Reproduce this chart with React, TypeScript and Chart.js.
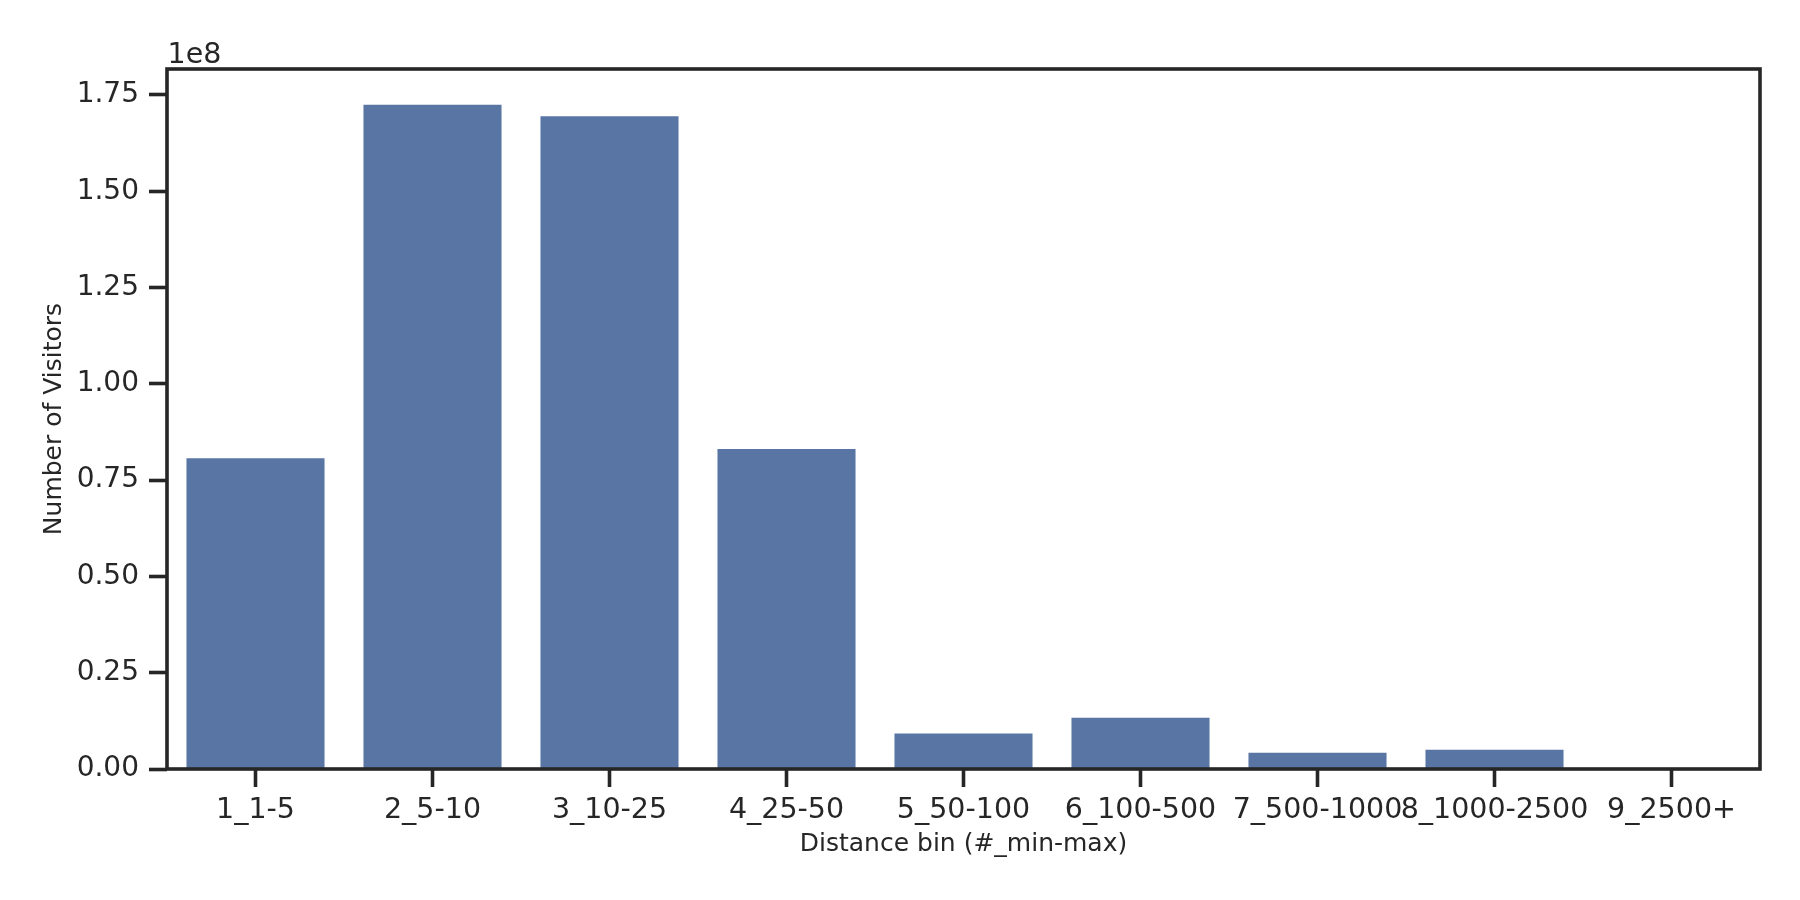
import React, { useEffect, useRef } from "react";
import { Chart, registerables } from "chart.js";

Chart.register(...registerables);

const CATEGORIES = [
  "1_1-5",
  "2_5-10",
  "3_10-25",
  "4_25-50",
  "5_50-100",
  "6_100-500",
  "7_500-1000",
  "8_1000-2500",
  "9_2500+",
];
const VISITORS = [80.7e6, 172.5e6, 169.5e6, 83.1e6, 9.2e6, 13.3e6, 4.2e6, 5.0e6, 0.2e6];
const Y_TICKS = [0, 0.25e8, 0.5e8, 0.75e8, 1.0e8, 1.25e8, 1.5e8, 1.75e8];
const Y_MAX = 1.8175e8;
const X_TITLE = "Distance bin (#_min-max)";
const Y_TITLE = "Number of Visitors";
const OFFSET_TEXT = "1e8";

const INK = "#262626";
const BAR = "#5975A4";
const FONT = "DejaVu Sans";
const LINE_W = 3.6;

const framePlugin = {
  id: "frame",
  afterDatasetsDraw(chart: any) {
    const { ctx, chartArea: a } = chart;
    ctx.save();
    ctx.strokeStyle = INK;
    ctx.lineWidth = LINE_W;
    ctx.strokeRect(a.left, a.top, a.right - a.left, a.bottom - a.top);
    ctx.font = `28.5px "${FONT}"`;
    ctx.fillStyle = INK;
    ctx.textAlign = "left";
    ctx.textBaseline = "alphabetic";
    ctx.fillText(OFFSET_TEXT, a.left + 0.5, a.top - 6);
    ctx.restore();
  },
};

export default function App() {
  const ref = useRef<HTMLCanvasElement | null>(null);

  useEffect(() => {
    if (!ref.current) return;
    const chart = new Chart(ref.current, {
      type: "bar",
      data: {
        labels: CATEGORIES,
        datasets: [
          {
            data: VISITORS,
            backgroundColor: BAR,
            borderWidth: 0,
            categoryPercentage: 1,
            barPercentage: 0.78,
          },
        ],
      },
      options: {
        animation: false,
        responsive: false,
        devicePixelRatio: 1,
        layout: { padding: { left: 0, top: 69, right: 40, bottom: 0 } },
        plugins: {
          legend: { display: false },
          tooltip: { enabled: false },
        },
        scales: {
          x: {
            type: "category",
            offset: true,
            grid: {
              offset: false,
              drawOnChartArea: false,
              drawTicks: true,
              tickLength: 18,
              tickWidth: LINE_W,
              tickColor: INK,
              color: INK,
            },
            border: { display: false },
            ticks: {
              autoSkip: false,
              maxRotation: 0,
              minRotation: 0,
              padding: 6,
              color: INK,
              font: { family: FONT, size: 28.5 },
            },
            title: {
              display: true,
              text: X_TITLE,
              color: INK,
              font: { family: FONT, size: 25 },
              padding: { top: 0, bottom: 40.5 },
            },
            afterFit: (scale: any) => {
              scale.height = 131;
            },
          },
          y: {
            type: "linear",
            min: 0,
            max: Y_MAX,
            grid: {
              drawOnChartArea: false,
              drawTicks: true,
              tickLength: 18,
              tickWidth: LINE_W,
              tickColor: INK,
              color: INK,
            },
            border: { display: false },
            ticks: {
              padding: 10,
              color: INK,
              font: { family: FONT, size: 28 },
              callback: (v: any) => (Number(v) / 1e8).toFixed(2),
            },
            afterBuildTicks: (scale: any) => {
              scale.ticks = Y_TICKS.map((value) => ({ value }));
            },
            title: {
              display: true,
              text: Y_TITLE,
              color: INK,
              font: { family: FONT, size: 25 },
              padding: { top: 39.5, bottom: 0 },
            },
            afterFit: (scale: any) => {
              scale.width = 167;
            },
          },
        },
      },
      plugins: [framePlugin],
    });
    return () => chart.destroy();
  }, []);

  return (
    <div
      style={{
        position: "absolute",
        left: 0,
        top: 0,
        width: 1800,
        height: 900,
        background: "#ffffff",
      }}
    >
      <canvas ref={ref} width={1800} height={900} style={{ width: 1800, height: 900, display: "block" }} />
    </div>
  );
}
